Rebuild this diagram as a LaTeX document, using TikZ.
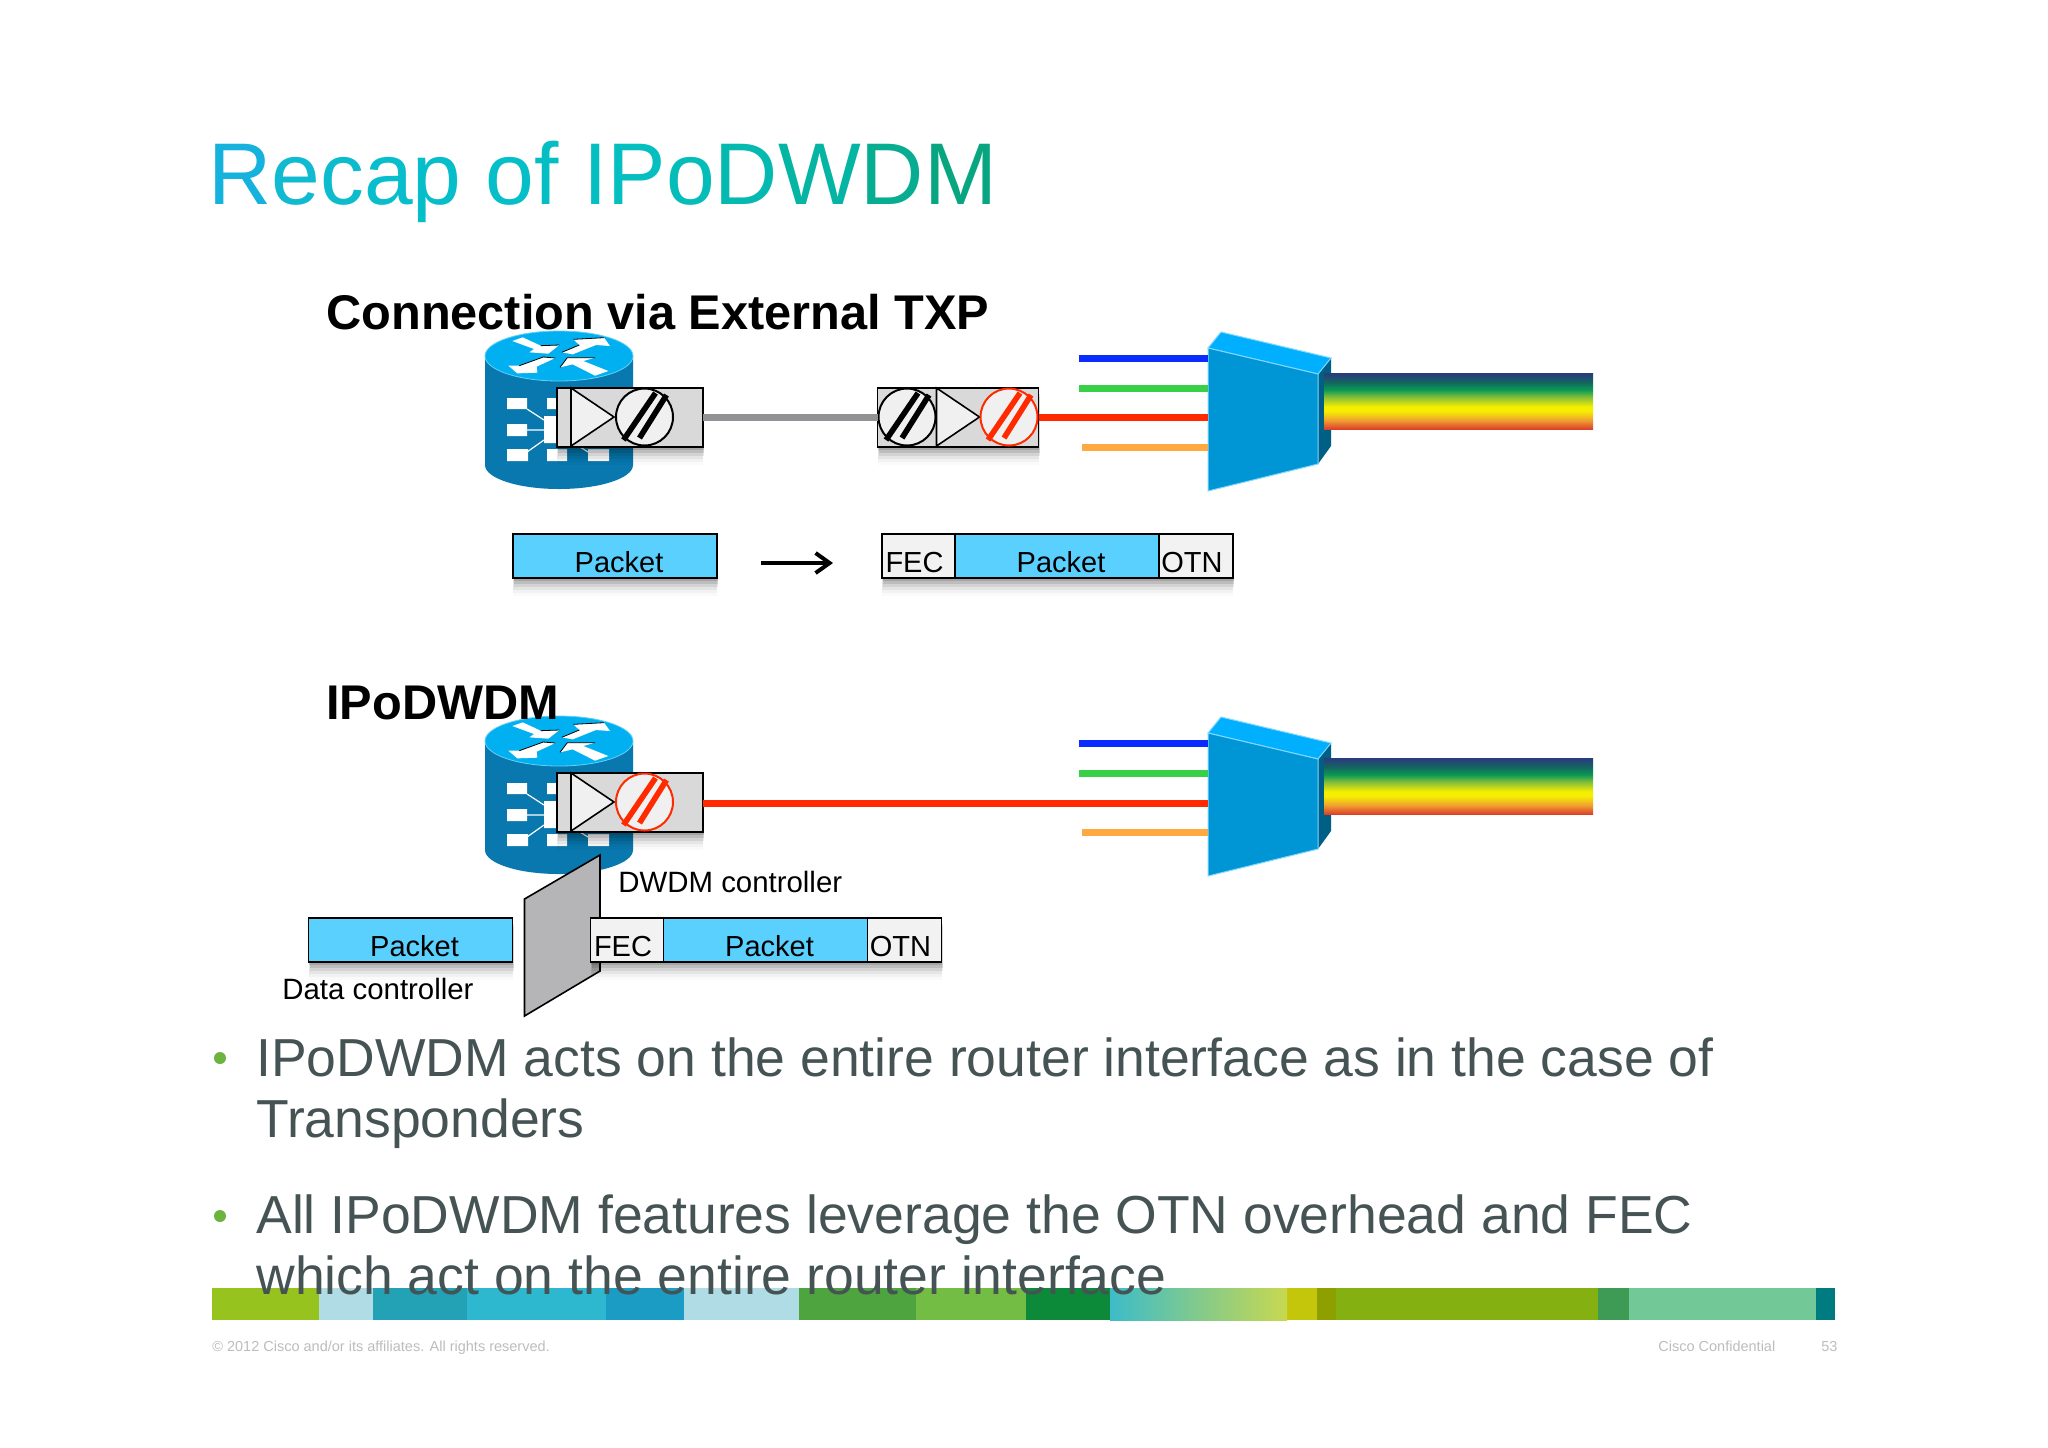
\documentclass[tikz,border=0pt]{standalone}
\usepackage{fontspec}
\setmainfont{Liberation Sans}
\usetikzlibrary{arrows.meta,shadows}

\definecolor{routertop}{HTML}{00B0F0}
\definecolor{routerbody}{HTML}{0878AE}
\definecolor{muxtop}{HTML}{00B0FF}
\definecolor{muxfront}{HTML}{0096D6}
\definecolor{muxside}{HTML}{005F85}
\definecolor{packetblue}{HTML}{5AD0FF}
\definecolor{boxgrey}{HTML}{D9D9D9}
\definecolor{discgrey}{HTML}{F0F0F0}
\definecolor{plategrey}{HTML}{B5B5B7}
\definecolor{linkgrey}{HTML}{929294}
\definecolor{lamdared}{HTML}{FF2A00}
\definecolor{lamdablue}{HTML}{0A2CFF}
\definecolor{lamdagreen}{HTML}{38D048}
\definecolor{lamdaorange}{HTML}{FFA940}
\definecolor{bodytext}{HTML}{465354}
\definecolor{dotgreen}{HTML}{6DB33F}
\definecolor{footgrey}{HTML}{BDBDBD}
\definecolor{rainA}{HTML}{2B3A80}
\definecolor{rainB}{HTML}{146460}
\definecolor{rainC}{HTML}{0A9A55}
\definecolor{rainD}{HTML}{7CBC3C}
\definecolor{rainE}{HTML}{F5EE00}
\definecolor{rainF}{HTML}{F0A030}
\definecolor{rainG}{HTML}{DC402A}
\definecolor{fadeA}{HTML}{3DBCC8}
\definecolor{fadeB}{HTML}{95CC80}
\definecolor{fadeC}{HTML}{C8D850}

\pgfdeclareverticalshading{rainbowfibre}{100bp}{
  color(0bp)=(rainG);
  color(25bp)=(rainG);
  color(33bp)=(rainF);
  color(41bp)=(rainE);
  color(45bp)=(rainE);
  color(54bp)=(rainD);
  color(60bp)=(rainC);
  color(67bp)=(rainB);
  color(75bp)=(rainA);
  color(100bp)=(rainA)}

\tikzset{
  softshadow/.style={
    general shadow={fill=black,opacity=.12,shadow yshift=-1.5pt,shadow xshift=.3pt},
    general shadow={fill=black,opacity=.1,shadow yshift=-3pt,shadow xshift=.5pt},
    general shadow={fill=black,opacity=.08,shadow yshift=-4.5pt,shadow xshift=.5pt},
    general shadow={fill=black,opacity=.05,shadow yshift=-6pt},
    general shadow={fill=black,opacity=.03,shadow yshift=-7.5pt},
    general shadow={fill=black,opacity=.02,shadow yshift=-9pt}},
  cellbox/.style={rectangle,draw=black,line width=.8pt,inner sep=0pt,outer sep=0pt,anchor=north west,
    minimum height=22pt,text height=19pt,text depth=3pt,font=\fontsize{14.5}{17}\selectfont,softshadow},
  packetcell/.style={cellbox,fill=packetblue},
  plaincell/.style={cellbox,fill=white!95!black},
  txpbox/.style={rectangle,draw=black,line width=.9pt,fill=boxgrey,inner sep=0pt,outer sep=0pt,anchor=north west,
    minimum height=29.5pt,softshadow},
  ampshape/.style={draw=black,line width=.8pt,fill=discgrey},
  discnode/.style={circle,line width=1pt,fill=discgrey,inner sep=0pt,minimum size=28.5pt},
  fibre/.style={line width=3.5pt},
  heading/.style={anchor=base west,inner sep=0pt,font=\fontsize{24.35}{28}\selectfont\bfseries},
  smalltag/.style={anchor=base west,inner sep=0pt,font=\fontsize{14.7}{17}\selectfont},
  pointtext/.style={anchor=base west,inner sep=0pt,text=bodytext,font=\fontsize{26.75}{30.5}\selectfont},
  pointdot/.style={circle,fill=dotgreen,inner sep=0pt,minimum size=6pt},
  foottext/.style={anchor=base west,inner sep=0pt,text=footgrey,font=\fontsize{7.25}{9}\selectfont}
}

\newcommand{\tint}[2]{\textcolor[HTML]{#1}{#2}}
% cell texts sit off the middle of their cells
\newcommand{\toright}[1]{\hspace*{4pt}#1}
\newcommand{\toleft}[1]{#1\hspace*{4pt}}

% router icon, typed at the place of the upper one
\newcommand{\drawrouter}{
  \fill[routerbody] (485,356) -- (485,465) arc[start angle=180,end angle=0,x radius=74,y radius=24] -- (633,356) -- cycle;
  \draw[routertop!60!white,fill=routertop,line width=.4pt] (559,356) ellipse[x radius=74,y radius=25];
  \begin{scope}[shift={(480,325)},x=.1667pt,y=-.1667pt]
    \fill[white] (97,48)--(128,37)--(182,62)--(238,60)--(205,86)--(148,82)--(162,72)--cycle;
    \fill[white] (245,82)--(298,60)--(280,43)--(372,38)--(390,63)--(348,60)--(278,88)--cycle;
    \fill[white] (85,122)--(118,122)--(190,96)--(226,99)--(170,125)--(172,143)--(112,145)--cycle;
    \fill[white] (240,127)--(262,98)--(345,98)--(310,108)--(385,138)--(345,152)--(278,118)--cycle;
    \draw[black,line width=.4pt] (182,62)--(238,60) (245,82)--(298,60) (280,43)--(372,38)
      (118,122)--(190,96)--(226,99) (240,127)--(262,98)--(345,98);
  \end{scope}
  \fill[white] (507,398) rectangle (527,409) (507,424) rectangle (527,436) (507,449) rectangle (528,461);
  \fill[white] (547,398) rectangle (557,409) (544,416) rectangle (557,443);
  \fill[white] (547,449) rectangle (567,461) (588,449) rectangle (609,461);
  \draw[white,line width=.6pt] (527,409) -- (544,420) (527,430) -- (544,430) (527,452) -- (544,440) (580,447) -- (588,452);
}

% amplifier triangle, left edge at #1
\newcommand{\drawamp}[1]{
  \draw[ampshape] (#1,388) -- (#1,446) -- ({#1+43},417) -- cycle;
}

% laser disc with its two bars
\newcommand{\drawdisc}[3]{
  \node[discnode,draw=#3] (#1) at (#2,417) {};
  \draw[#3,line width=2.8pt] ([shift={(-21,23)}]#1.center) -- ([shift={(11,-24)}]#1.center);
  \draw[#3,line width=2.8pt] ([shift={(-5,21)}]#1.center) -- ([shift={(22,-22)}]#1.center);
}

% mux wedge, three of its fibres and the rainbow trunk
\newcommand{\drawmux}[1]{
  \fill[muxside] (1318,374) -- (1331,358) -- (1331,446) -- (1318,464) -- cycle;
  \shade[shading=rainbowfibre] (1324,373) rectangle (1593,429);
  \draw[muxtop!50!white,fill=muxtop,line width=.5pt] (1208,348) -- (1221,332) -- (1331,358) -- (1318,374) -- cycle;
  \draw[muxtop!50!white,fill=muxfront,line width=.5pt] (1208,348) -- (1318,374) -- (1318,464) -- (1208,491) -- cycle;
  \coordinate (#1blueA) at (1079,358);
  \coordinate (#1blueB) at (1208,358);
  \coordinate (#1greenA) at (1079,388);
  \coordinate (#1greenB) at (1208,388);
  \coordinate (#1orangeA) at (1082,447);
  \coordinate (#1orangeB) at (1208,447);
  \coordinate (#1red) at (1208,417.5);
  \draw[fibre,lamdablue] (#1blueA) -- (#1blueB);
  \draw[fibre,lamdagreen] (#1greenA) -- (#1greenB);
  \draw[fibre,lamdaorange] (#1orangeA) -- (#1orangeB);
}

\begin{document}
\begin{tikzpicture}[x=.5pt,y=-.5pt]
  \useasboundingbox (0,0) rectangle (2048,1447);
  \fill[white] (0,0) rectangle (2048,1447);

  % colour bar at the foot
  \foreach \xa/\xb/\col in {212/319/97C31F,319/373/B0DDE5,373/467/22A2B4,467/606/2DB8CF,606/684/1A9CC4,
      684/799/B0DDE5,799/916/4EA53F,916/1026/74BD44,1026/1110/0C8A3A,1287/1317/C3C60A,
      1317/1336/8E9F00,1336/1598/85B012,1598/1629/3D9B55,1629/1816/72C896,1816/1835/007C80}{
    \definecolor{barcell}{HTML}{\col}
    \fill[barcell] (\xa,1288) rectangle (\xb,1320);
  }
  \shade[left color=fadeA,middle color=fadeB,right color=fadeC] (1110,1288) rectangle (1287,1320);

  % upper link
  \drawrouter
  \drawmux{up}
  \node[txpbox,minimum width=73pt] (txpA) at (557,388) {};
  \drawamp{571}
  \drawdisc{discA}{644.5}{black}
  \node[txpbox,minimum width=80.5pt] (txpB) at (877.5,388) {};
  \drawdisc{discB}{907}{black}
  \drawamp{936.5}
  \drawdisc{discC}{1009}{lamdared}
  \draw[fibre,linkgrey] (txpA.east) -- (txpB.west);
  \draw[fibre,lamdared] (txpB.east) -- (upred);

  % frames of the upper link
  \node[packetcell,minimum width=102pt] (pktA) at (513,534) {\toright{Packet}};
  \coordinate (stepA) at (761,563);
  \coordinate (stepB) at (833,563);
  \draw[line width=2pt,-{Straight Barb[length=7pt,width=10pt]}] (stepA) -- (stepB);
  \node[plaincell,minimum width=36.5pt] (fecA) at (882,534) {\toleft{FEC}};
  \node[packetcell,minimum width=102pt] (pktB) at (955,534) {\toright{Packet}};
  \node[plaincell,minimum width=37pt] (otnA) at (1159,534) {\toleft{OTN}};

  % lower link
  \begin{scope}[shift={(0,385)}]
    \drawrouter
    \drawmux{low}
    \node[txpbox,minimum width=73pt] (txpC) at (557,388) {};
    \drawamp{571}
    \drawdisc{discD}{644.5}{lamdared}
    \draw[fibre,lamdared] ([yshift=-.6pt]txpC.east) -- ([yshift=-.6pt]lowred);
  \end{scope}

  % controller plate and frames
  \draw[line width=.8pt,fill=plategrey] (524.5,899) -- (600,855) -- (600,971) -- (524.5,1016) -- cycle;
  \node[packetcell,minimum width=102pt] (pktC) at (308.5,918) {\toright{Packet}};
  \node[plaincell,minimum width=36.5pt] (fecB) at (590.5,918) {\toleft{FEC}};
  \node[packetcell,minimum width=102pt] (pktD) at (663.5,918) {\toright{Packet}};
  \node[plaincell,minimum width=37pt] (otnB) at (867.5,918) {\toleft{OTN}};
  \node[smalltag] (dwdmtag) at (618,892) {DWDM controller};
  \node[smalltag] (datatag) at (282,999) {Data controller};

  % headings
  \node[anchor=base west,inner sep=0pt,font=\fontsize{43.8}{50}\selectfont] (title) at (208,204)
    {\tint{14B2DC}{R}\tint{10BAD0}{e}\tint{0CBCCC}{c}\tint{08BDCC}{a}\tint{06BDCA}{p} \tint{04BEC8}{o}\tint{04BEC4}{f} \tint{04BFC2}{I}\tint{04BFC0}{P}\tint{04BDB8}{o}\tint{04BAB0}{D}\tint{04B5A4}{W}\tint{06AD90}{D}\tint{08A680}{M}};
  \node[heading] (headA) at (326,329) {Connection via External TXP};
  \node[heading] (headB) at (326,719) {IPoDWDM};

  % bullet points
  \node[pointdot] (dotA) at (220,1058) {};
  \node[pointtext] (lineA) at (256,1076) {IPoDWDM acts on the entire router interface as in the case of};
  \node[pointtext] (lineB) at (256,1137) {Transponders};
  \node[pointdot] (dotB) at (220,1216) {};
  \node[pointtext] (lineC) at (256,1233) {All IPoDWDM features leverage the OTN overhead and FEC};
  \node[pointtext] (lineD) at (256,1294) {which act on the entire router interface};

  % footer
  \node[foottext] (copyline) at (212,1351) {© 2012 Cisco and/or its affiliates. All rights reserved.};
  \node[foottext] (confline) at (1658,1351) {Cisco Confidential};
  \node[foottext] (pageline) at (1821,1351) {53};
\end{tikzpicture}
\end{document}
